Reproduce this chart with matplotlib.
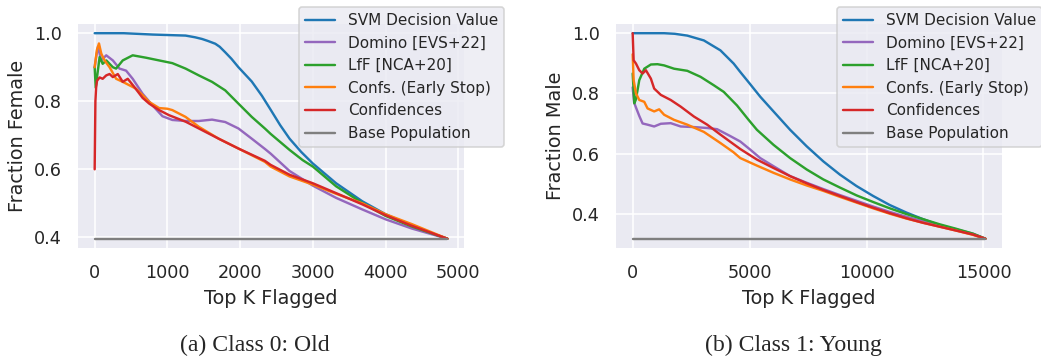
import matplotlib
matplotlib.use("Agg")
import matplotlib.pyplot as plt
from matplotlib.ticker import MultipleLocator
import seaborn as sns

sns.set_theme(style="darkgrid")
plt.rcParams["font.family"] = ["DejaVu Sans"]

labels = ["SVM Decision Value", "Domino [EVS+22]", "LfF [NCA+20]",
          "Confs. (Early Stop)", "Confidences", "Base Population"]
colors = ["#1f77b4", "#9467bd", "#2ca02c", "#ff7f0e", "#d62728", "#7f7f7f"]

# ---------------- Panel (a): Class 0: Old ----------------
n_a = 4850
base_a = 0.396
svm_a_k = [0, 400, 800, 1250, 1380, 1477, 1560, 1659, 1720, 1795, 1880, 1977, 2160, 2300, 2420, 2550, 2680, 2840, 3000, 3320, 3680, 4000, 4360, 4600, 4850]
svm_a_v = [1.0, 1.0, 0.996, 0.993, 0.988, 0.983, 0.977, 0.969, 0.96, 0.944, 0.925, 0.90, 0.858, 0.816, 0.775, 0.73, 0.69, 0.651, 0.617, 0.559, 0.506, 0.468, 0.434, 0.414, 0.396]
dom_a_k = [0, 20, 45, 91, 159, 250, 341, 432, 523, 659, 795, 932, 1068, 1250, 1432, 1614, 1795, 1977, 2160, 2340, 2420, 2680, 3000, 3320, 3680, 4000, 4360, 4850]
dom_a_v = [0.90, 0.93, 0.96, 0.92, 0.935, 0.92, 0.896, 0.89, 0.866, 0.822, 0.788, 0.756, 0.745, 0.742, 0.742, 0.746, 0.739, 0.72, 0.69, 0.66, 0.646, 0.595, 0.552, 0.516, 0.482, 0.453, 0.426, 0.396]
lff_a_k = [0, 14, 68, 110, 160, 250, 295, 386, 523, 705, 886, 1068, 1250, 1432, 1614, 1795, 1977, 2160, 2340, 2420, 2680, 2860, 3000, 3320, 3680, 4000, 4360, 4850]
lff_a_v = [0.90, 0.84, 0.93, 0.91, 0.92, 0.90, 0.896, 0.92, 0.935, 0.928, 0.92, 0.912, 0.896, 0.876, 0.857, 0.832, 0.793, 0.754, 0.72, 0.704, 0.657, 0.627, 0.608, 0.55, 0.501, 0.463, 0.432, 0.396]
ces_a_k = [0, 30, 59, 91, 136, 205, 295, 386, 477, 568, 659, 750, 886, 1000, 1068, 1250, 1432, 1705, 1977, 2340, 2420, 2680, 3000, 3320, 3680, 4000, 4360, 4850]
ces_a_v = [0.90, 0.95, 0.97, 0.94, 0.92, 0.90, 0.866, 0.857, 0.847, 0.837, 0.818, 0.798, 0.78, 0.778, 0.774, 0.754, 0.725, 0.69, 0.661, 0.622, 0.608, 0.579, 0.555, 0.528, 0.5, 0.468, 0.439, 0.396]
con_a_k = [0, 10, 20, 32, 68, 110, 159, 205, 250, 318, 386, 455, 545, 659, 750, 886, 1023, 1250, 1432, 1705, 1977, 2340, 2420, 2680, 3000, 3320, 3680, 4000, 4360, 4850]
con_a_v = [0.60, 0.80, 0.84, 0.86, 0.87, 0.866, 0.876, 0.88, 0.871, 0.88, 0.857, 0.866, 0.842, 0.81, 0.793, 0.774, 0.759, 0.74, 0.72, 0.69, 0.661, 0.625, 0.613, 0.584, 0.559, 0.53, 0.497, 0.465, 0.434, 0.396]

# ---------------- Panel (b): Class 1: Young ----------------
n_b = 15080
base_b = 0.317
svm_b_k = [0, 1345, 1800, 2336, 3044, 3752, 4319, 4602, 5000, 5454, 6022, 6732, 7442, 8152, 8862, 9572, 10282, 10992, 11702, 12412, 13122, 13832, 14542, 15080]
svm_b_v = [1.0, 1.0, 0.998, 0.992, 0.976, 0.943, 0.899, 0.871, 0.833, 0.789, 0.74, 0.679, 0.624, 0.574, 0.53, 0.492, 0.459, 0.429, 0.404, 0.382, 0.362, 0.347, 0.332, 0.317]
dom_b_k = [0, 60, 142, 283, 425, 637, 920, 1204, 1628, 2053, 2620, 3186, 3610, 4176, 4602, 5028, 5454, 6022, 6732, 7442, 8152, 8862, 9572, 10282, 10992, 11702, 12412, 13122, 13832, 14542, 15080]
dom_b_v = [0.82, 0.77, 0.753, 0.725, 0.70, 0.696, 0.69, 0.699, 0.701, 0.69, 0.688, 0.685, 0.681, 0.658, 0.64, 0.613, 0.585, 0.558, 0.525, 0.503, 0.482, 0.462, 0.443, 0.424, 0.406, 0.39, 0.375, 0.361, 0.348, 0.334, 0.317]
lff_b_k = [0, 71, 140, 283, 496, 779, 1062, 1345, 1770, 2336, 2903, 3469, 3894, 4460, 4957, 5312, 6022, 6732, 7442, 8152, 8862, 9572, 10282, 10992, 11702, 12412, 13122, 13832, 14542, 15080]
lff_b_v = [0.866, 0.767, 0.78, 0.844, 0.882, 0.896, 0.897, 0.893, 0.882, 0.875, 0.855, 0.827, 0.805, 0.76, 0.712, 0.679, 0.629, 0.585, 0.547, 0.514, 0.487, 0.461, 0.439, 0.418, 0.399, 0.382, 0.365, 0.35, 0.334, 0.317]
ces_b_k = [0, 42, 142, 283, 496, 637, 920, 1133, 1345, 1770, 2336, 3044, 3752, 4300, 4602, 5312, 6022, 6732, 7442, 8152, 8862, 9572, 10282, 10992, 11702, 12412, 13122, 13832, 14542, 15080]
ces_b_v = [0.93, 0.844, 0.80, 0.778, 0.772, 0.75, 0.74, 0.747, 0.729, 0.712, 0.696, 0.672, 0.635, 0.605, 0.585, 0.56, 0.536, 0.514, 0.494, 0.476, 0.456, 0.437, 0.418, 0.40, 0.384, 0.37, 0.357, 0.344, 0.33, 0.317]
con_b_k = [0, 42, 142, 283, 425, 566, 779, 920, 1204, 1628, 2053, 2620, 3186, 3752, 4300, 4602, 5312, 6022, 6732, 7442, 8152, 8862, 9572, 10282, 10992, 11702, 12412, 13122, 13832, 14542, 15080]
con_b_v = [1.0, 0.91, 0.899, 0.877, 0.866, 0.877, 0.849, 0.816, 0.795, 0.778, 0.756, 0.723, 0.696, 0.663, 0.632, 0.615, 0.58, 0.552, 0.525, 0.501, 0.479, 0.459, 0.439, 0.42, 0.402, 0.385, 0.37, 0.357, 0.344, 0.331, 0.317]

panels = [
    dict(series=[(svm_a_k, svm_a_v), (dom_a_k, dom_a_v), (lff_a_k, lff_a_v),
                 (ces_a_k, ces_a_v), (con_a_k, con_a_v)],
         n=n_a, base=base_a, ylabel="Fraction Female", xstep=1000,
         caption="(a) Class 0: Old"),
    dict(series=[(svm_b_k, svm_b_v), (dom_b_k, dom_b_v), (lff_b_k, lff_b_v),
                 (ces_b_k, ces_b_v), (con_b_k, con_b_v)],
         n=n_b, base=base_b, ylabel="Fraction Male", xstep=5000,
         caption="(b) Class 1: Young"),
]

DPI = 115.5
fig = plt.figure(figsize=(1041 / DPI, 356 / DPI), dpi=DPI)
lefts = [0.074, 0.5908]
cap_x = [0.245, 0.762]

for i, p in enumerate(panels):
    ax = fig.add_axes([lefts[i], 0.3006, 0.3727, 0.635])
    for (k, v), lab, col in zip(p["series"], labels, colors):
        ax.plot(k, v, color=col, label=lab)
    ax.plot([0, p["n"]], [p["base"], p["base"]], color=colors[5], label=labels[5])
    ax.xaxis.set_major_locator(MultipleLocator(p["xstep"]))
    ax.yaxis.set_major_locator(MultipleLocator(0.2))
    ax.set_xlabel("Top K Flagged")
    ax.set_ylabel(p["ylabel"])
    ax.legend(loc="upper right", bbox_to_anchor=(1.1005, 1.071),
              borderaxespad=0, fontsize=9.5)
    fig.text(cap_x[i], 0.0149, p["caption"], ha="center", va="baseline",
             family="Liberation Serif", fontsize=14.8)

fig.savefig("out.png", dpi=DPI)
